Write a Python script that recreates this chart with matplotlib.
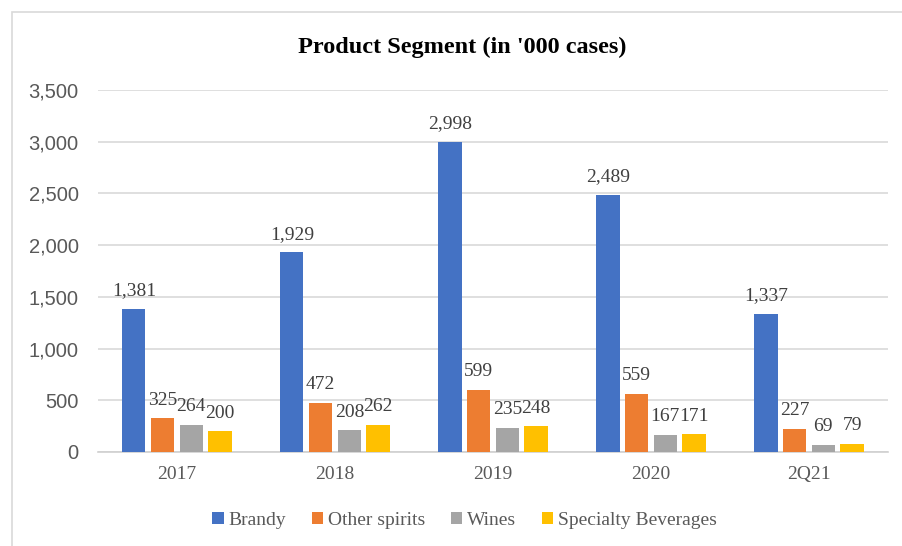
import numpy as np
import matplotlib.pyplot as plt
from matplotlib.patches import Rectangle

# Product volumes in thousand cases
periods = ['2017', '2018', '2019', '2020', '2Q21']
segments = ['Brandy', 'Other spirits', 'Wines', 'Specialty Beverages']
brandy = [1381, 1929, 2998, 2489, 1337]
other_spirits = [325, 472, 599, 559, 227]
wines = [264, 208, 235, 167, 69]
specialty = [200, 262, 248, 171, 79]
colors = ['#4472C4', '#ED7D31', '#A5A5A5', '#FFC000']

serif = ['Liberation Serif', 'DejaVu Serif']
label_color = '#404040'
axis_color = '#595959'

fig = plt.figure(figsize=(9.02, 5.46), dpi=100)
ax = fig.add_axes([0.1086, 0.1722, 0.8759, 0.6630])

# outer chart border
fig.patches.append(Rectangle((12 / 902, -0.1), 1.2, 1 - 12 / 546 + 0.1,
                             transform=fig.transFigure, fill=False,
                             edgecolor='#d9d9d9', linewidth=1.2))

x = np.arange(len(periods))
pitch = 0.1815
width = 0.146
series = [brandy, other_spirits, wines, specialty]
for i, (name, vals) in enumerate(zip(segments, series)):
    offs = (i - 1.5) * pitch
    bars = ax.bar(x + offs, vals, width, color=colors[i], label=name, zorder=3)
    ax.bar_label(bars, labels=[f'{v:,}' for v in vals], padding=7,
                 fontsize=14, color=label_color, family=serif)

ax.set_xlim(-0.5, len(periods) - 0.5)
ax.set_ylim(0, 3500)
ax.set_yticks(np.arange(0, 3501, 500))
ax.set_yticklabels([f'{v:,}' for v in range(0, 3501, 500)],
                   fontsize=14.5, color=axis_color, family='Liberation Sans')
ax.set_xticks(x)
ax.set_xticklabels(periods, fontsize=14, color=axis_color, family=serif)
ax.tick_params(axis='both', length=0)
ax.tick_params(axis='y', pad=14)
ax.tick_params(axis='x', pad=10)
ax.grid(axis='y', color='#d9d9d9', linewidth=1.2, zorder=0)
for s in ['top', 'right', 'left']:
    ax.spines[s].set_visible(False)
ax.spines['bottom'].set_color('#d0d0d0')
ax.spines['bottom'].set_linewidth(1.2)

fig.text(0.513, 0.913, "Product Segment (in '000 cases)", ha='center', va='center',
         fontsize=17.5, fontweight='bold', family=serif, color='black')

leg = fig.legend(loc='center', bbox_to_anchor=(0.515, 0.047), ncol=4, frameon=False,
                 handlelength=0.6, handleheight=0.6, handletextpad=0.25,
                 columnspacing=1.3, prop={'family': serif, 'size': 14})
for t in leg.get_texts():
    t.set_color(axis_color)

fig.savefig('out.png', dpi=100)
